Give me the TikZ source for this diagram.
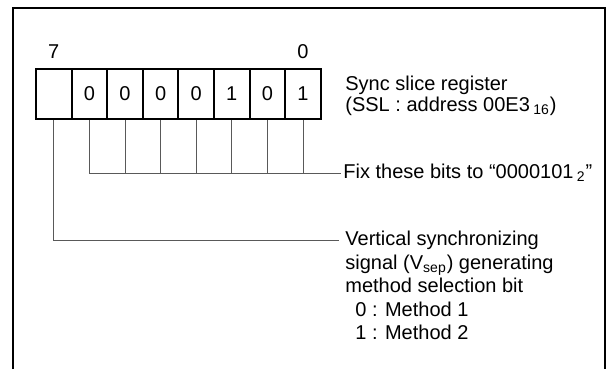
\documentclass[tikz,border=0pt]{standalone}
\usepackage{fontspec}
\setmainfont{Liberation Sans}
\usepackage{tikz}
\tikzset{
    bitcell/.style={shape=rectangle, draw=black, line width=1pt, minimum width=17.8pt, minimum height=25pt, inner sep=0pt},
    tap/.style={draw=black!65, line width=0.5pt}}

\begin{document}
\begin{tikzpicture}[x=0.5pt, y=-0.5pt, font=\fontsize{10pt}{10.5pt}\selectfont]

                    \useasboundingbox (0,0) rectangle (609,369);
                    \draw[line width=0.8pt] (13,369) -- (13,8) -- (605,8) -- (605,369);

                    \node[bitcell, label={[label distance=1pt]above:7}] (b7) at (53.8,94) {};
                    \node[bitcell] (b6) at (89.4,94) {0};
                    \node[bitcell] (b5) at (125.0,94) {0};
                    \node[bitcell] (b4) at (160.6,94) {0};
                    \node[bitcell] (b3) at (196.2,94) {0};
                    \node[bitcell] (b2) at (231.8,94) {1};
                    \node[bitcell] (b1) at (267.4,94) {0};
                    \node[bitcell, label={[label distance=1pt]above:0}] (b0) at (303.0,94) {1};

                    \node[anchor=north west, inner sep=0pt, align=left] (ssl) at (345,76) {Sync slice register\\(SSL : address 00E3\,\textsubscript{16})};
                    \node[anchor=west, inner sep=1pt] (fix) at (341,173) {Fix these bits to “0000101\,\textsubscript{2}”};
                    \node[anchor=north west, inner sep=0pt, align=left, font=\fontsize{10pt}{11.75pt}\selectfont] (vsel) at (345,231) {Vertical synchronizing\\signal (V\textsubscript{sep}) generating\\method selection bit\\\hspace*{5pt}0 : Method 1\\\hspace*{5pt}1 : Method 2};
                    \coordinate (vend) at (339,240);

                    \draw[tap] (b6.south) |- (fix.west);
                    \draw[tap] (b5.south) -- (b5.south |- fix.west);
                    \draw[tap] (b4.south) -- (b4.south |- fix.west);
                    \draw[tap] (b3.south) -- (b3.south |- fix.west);
                    \draw[tap] (b2.south) -- (b2.south |- fix.west);
                    \draw[tap] (b1.south) -- (b1.south |- fix.west);
                    \draw[tap] (b0.south) -- (b0.south |- fix.west);
                    \draw[tap] (b7.south) |- (vend);

                \end{tikzpicture}
\end{document}
